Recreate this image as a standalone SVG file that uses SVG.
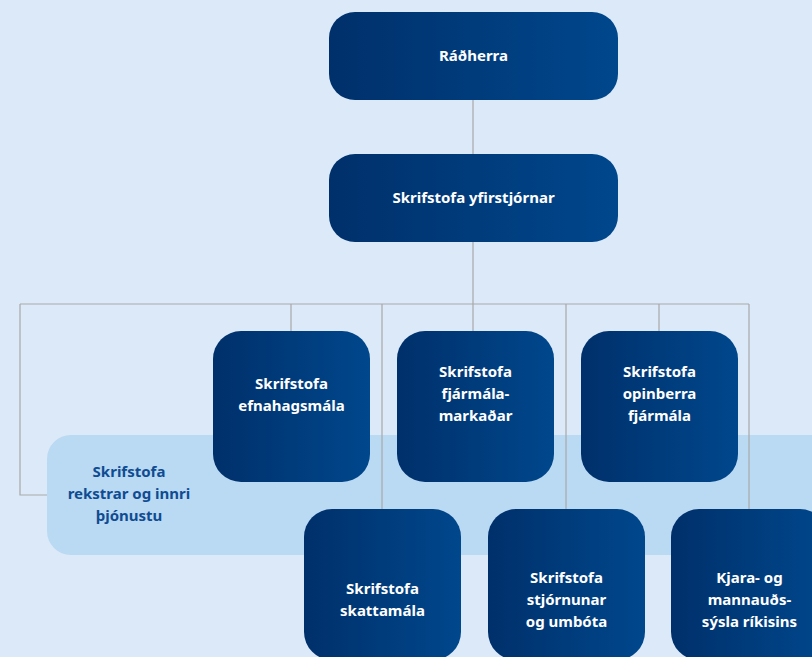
<svg xmlns="http://www.w3.org/2000/svg" width="812" height="657" viewBox="0 0 812 657">
<defs>
<linearGradient id="g" x1="0" y1="0" x2="1" y2="0">
<stop offset="0" stop-color="#00306b"/>
<stop offset="1" stop-color="#00478c"/>
</linearGradient>
<style>
.b{fill:url(#g)}
.t{font-family:"Noto Sans","Open Sans",sans-serif;font-weight:700;font-size:15px;fill:#ffffff;text-anchor:middle}
.tl{font-family:"Noto Sans","Open Sans",sans-serif;font-weight:700;font-size:15px;fill:#0f4c92;text-anchor:middle}
.c{fill:none;stroke:#a9a9a9;stroke-width:1.2}
</style>
</defs>
<rect x="0" y="0" width="812" height="657" fill="#dbe9f8"/>
<g id="panel">
<rect x="47" y="435" width="800" height="120" rx="24" fill="#bad9f2"/>
<text class="tl" x="129" y="477">Skrifstofa</text>
<text class="tl" x="129" y="499">rekstrar og innri</text>
<text class="tl" x="129" y="521">þjónustu</text>
</g>
<g id="connectors">
<path class="c" d="M473 100V154M473 242V331M20 304H749M20 304V495H47M291 304V331M382 304V510M566 304V510M659 304V331M749 304V510"/>
</g>
<g id="radherra">
<rect class="b" x="329" y="12" width="289" height="88" rx="26"/>
<text class="t" x="473.5" y="61">Ráðherra</text>
</g>
<g id="yfirstjorn">
<rect class="b" x="329" y="154" width="289" height="88" rx="26"/>
<text class="t" x="473.5" y="203">Skrifstofa yfirstjórnar</text>
</g>
<g id="efnahags">
<rect class="b" x="213" y="331" width="157" height="151" rx="28"/>
<text class="t" x="291.5" y="389">Skrifstofa</text>
<text class="t" x="291.5" y="411">efnahagsmála</text>
</g>
<g id="fjarmalamarkadar">
<rect class="b" x="397" y="331" width="157" height="151" rx="28"/>
<text class="t" x="475.5" y="377">Skrifstofa</text>
<text class="t" x="475.5" y="399">fjármála-</text>
<text class="t" x="475.5" y="421">markaðar</text>
</g>
<g id="opinberra">
<rect class="b" x="581" y="331" width="157" height="151" rx="28"/>
<text class="t" x="659.5" y="377">Skrifstofa</text>
<text class="t" x="659.5" y="399">opinberra</text>
<text class="t" x="659.5" y="421">fjármála</text>
</g>
<g id="skattamala">
<rect class="b" x="304" y="509" width="157" height="151" rx="28"/>
<text class="t" x="382.5" y="594">Skrifstofa</text>
<text class="t" x="382.5" y="616">skattamála</text>
</g>
<g id="stjornunar">
<rect class="b" x="488" y="509" width="157" height="151" rx="28"/>
<text class="t" x="566.5" y="583">Skrifstofa</text>
<text class="t" x="566.5" y="605">stjórnunar</text>
<text class="t" x="566.5" y="627">og umbóta</text>
</g>
<g id="kjara">
<rect class="b" x="671" y="509" width="157" height="151" rx="28"/>
<text class="t" x="749.5" y="583">Kjara- og</text>
<text class="t" x="749.5" y="605">mannauðs-</text>
<text class="t" x="749.5" y="627">sýsla ríkisins</text>
</g>
</svg>
